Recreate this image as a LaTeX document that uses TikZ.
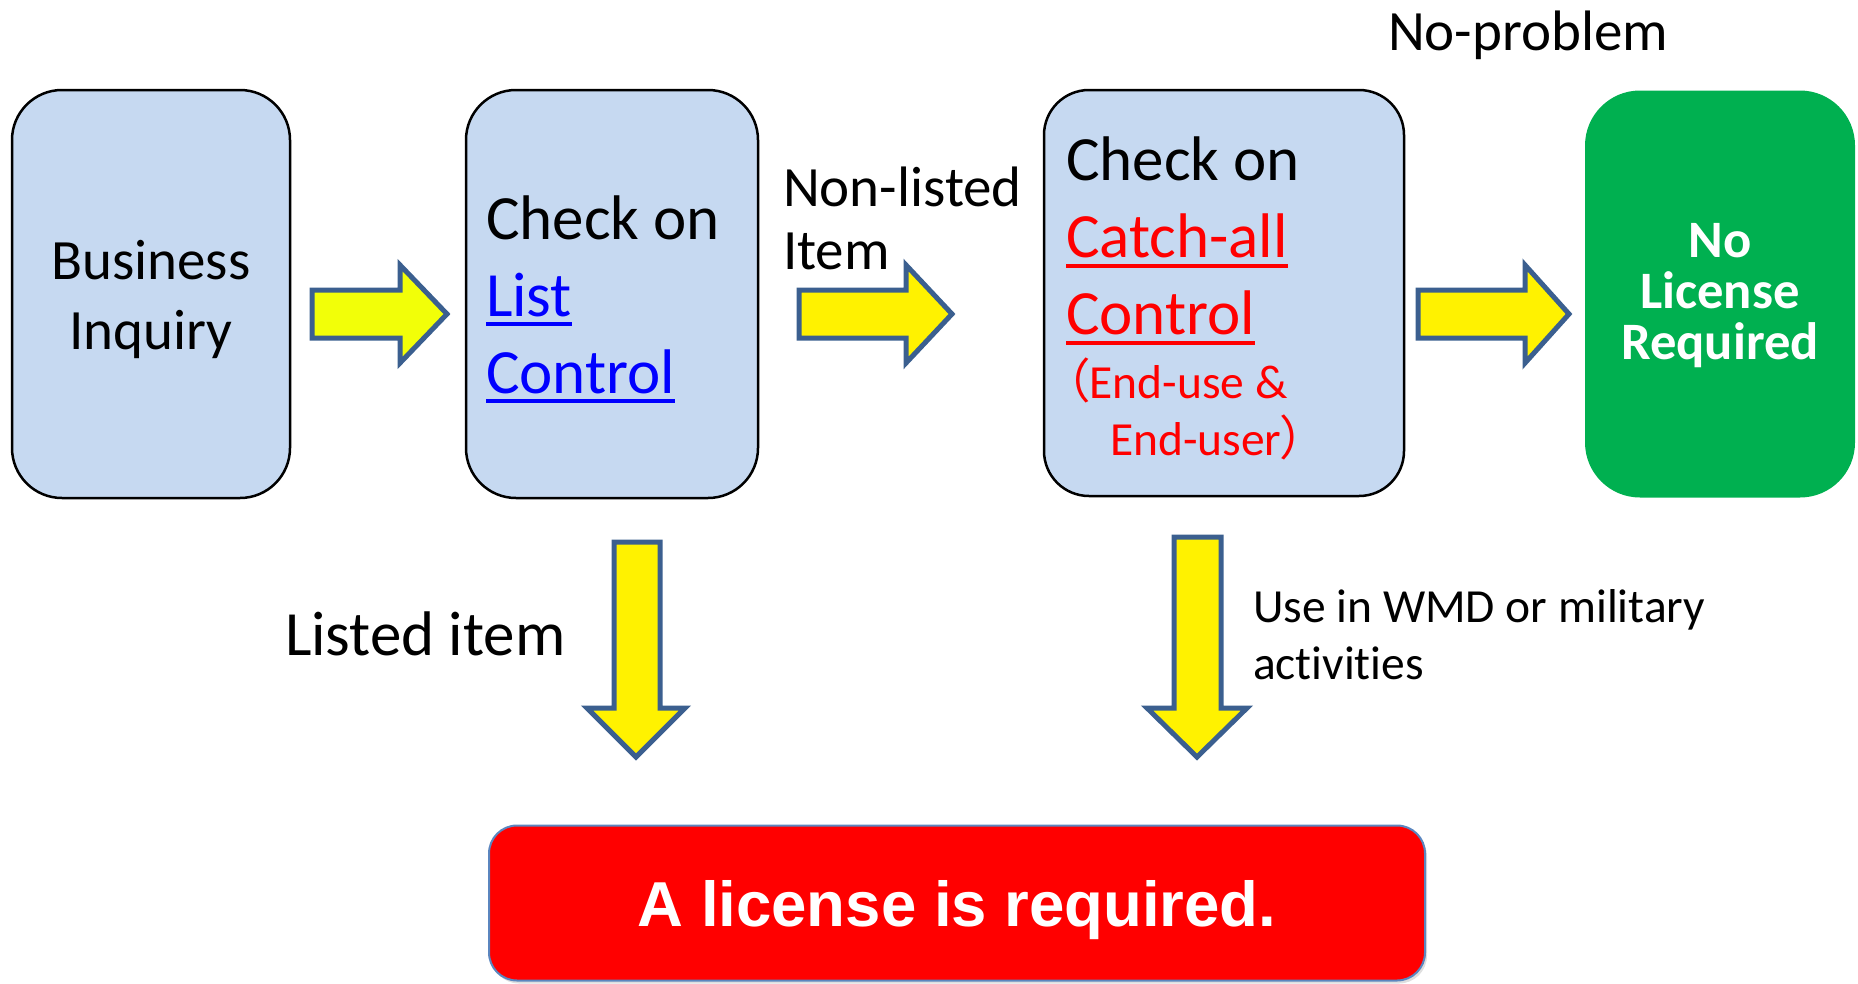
\documentclass[tikz,border=0pt]{standalone}
\usepackage{fontspec}
\setmainfont{Carlito}[RawFeature=-liga]
\newfontfamily\arialfont{Liberation Sans}
\newfontfamily\cjk[RawFeature=+palt]{Noto Sans CJK JP}
\usepackage{tikz}
\usetikzlibrary{shadows}
\definecolor{boxblue}{HTML}{C6D9F1}
\definecolor{licgreen}{HTML}{00B050}
\definecolor{arrowedge}{HTML}{3B5F8F}
\definecolor{firstyellow}{HTML}{F2FF08}
\definecolor{linkblue}{HTML}{0000FF}
\definecolor{redline}{HTML}{5B86BF}
\newcommand{\ulink}[1]{\setbox0\hbox{#1}\rlap{\rule[-10pt]{\wd0}{4pt}}\box0}
% first and last line of a box get a fixed height and depth
\newcommand{\topline}[2]{\raisebox{0pt}[#1][0pt]{#2}}
\newcommand{\lastline}[1]{\raisebox{0pt}[0pt][0pt]{#1}}
\tikzset{
    every node/.style={inner sep=0pt, outer sep=0pt}
}
\tikzset{
    checkbox/.style={draw=black, line width=2.5pt, fill=boxblue,
    	rounded corners=50pt}
}
\tikzset{
    blockarrow/.style={draw=arrowedge, line width=5pt, fill=yellow,
    	line join=miter}
}

\begin{document}
\begin{tikzpicture}[x=1pt, y=-1pt]
	\useasboundingbox (0,0) rectangle (1858,983);
	\node (inquiry) [checkbox, minimum width=278pt, minimum height=408pt,
		text width=240pt, align=center, font=\fontsize{57}{70}\selectfont]
		at (151,294) {\topline{40pt}{Business}\\ \lastline{Inquiry}};
	\node (listctl) [checkbox, minimum width=292pt, minimum height=408pt,
		text width=252pt, align=flush left, font=\fontsize{63}{77}\selectfont]
		at (612,294) {\topline{44pt}{Check on}\\
		\textcolor{linkblue}{\ulink{List}}\\
		\lastline{\textcolor{linkblue}{\ulink{Control}}}};
	\node (catchall) [checkbox, rounded corners=45pt, minimum width=360pt,
		minimum height=406pt, text width=316pt, align=flush left,
		font=\fontsize{63}{77}\selectfont] at (1224,293)
		{\topline{50pt}{Check on}\\ \textcolor{red}{\ulink{Catch-all}}\\
		\textcolor{red}{\ulink{Control}}\\[-13pt]
		\color{red}\fontsize{47.5}{77}\selectfont{\cjk （}End-use \&\\[-20pt]
		\lastline{\hspace*{44pt}End-user{\cjk ）}}};
	\node (nolicense) [fill=licgreen, rounded corners=55pt, minimum width=270pt,
		minimum height=407pt, text width=250pt, align=center, text=white,
		font=\fontsize{52.6}{51}\selectfont\bfseries] at (1720,294)
		{\topline{28pt}{No}\\License\\ \lastline{Required}};
	\node (required) [draw=redline, line width=2pt, fill=red,
		rounded corners=28pt, minimum width=936pt, minimum height=155pt,
		text depth=0pt, text=white,
		drop shadow={opacity=0.25, shadow xshift=2pt, shadow yshift=-3pt},
		font=\arialfont\bfseries\fontsize{63.5}{76}\selectfont] at (957,903)
		{A license is required.};
	
	\node (noproblem) [anchor=base west, font=\fontsize{57}{68}\selectfont]
		at (1388,50) {No-problem};
	\node (nonlisted) [anchor=north west, align=left,
		font=\fontsize{57}{63}\selectfont] at (783,167) {Non-listed\\Item};
	\node (listed) [anchor=base west, font=\fontsize{63}{76}\selectfont]
		at (285,655) {Listed item};
	\node (wmd) [anchor=north west, align=left,
		font=\fontsize{47.5}{57}\selectfont] at (1253,590)
		{Use in WMD or military\\activities};
	
	\draw [blockarrow, fill=firstyellow] (312,290) -- (400,290) -- (400,265)
		-- (447,314) -- (400,363) -- (400,338) -- (312,338) -- cycle;
	\draw [blockarrow] (799,290) -- (906,290) -- (906,265) -- (952,314)
		-- (906,363) -- (906,338) -- (799,338) -- cycle;
	\draw [blockarrow] (1418,290) -- (1525,290) -- (1525,265) -- (1569,314)
		-- (1525,363) -- (1525,338) -- (1418,338) -- cycle;
	\draw [blockarrow] (614,542) -- (614,708) -- (587,708) -- (636,757)
		-- (685,708) -- (660,708) -- (660,542) -- cycle;
	\draw [blockarrow] (1174,537) -- (1174,708) -- (1147,708) -- (1197,757)
		-- (1247,708) -- (1221,708) -- (1221,537) -- cycle;
\end{tikzpicture}
\end{document}
